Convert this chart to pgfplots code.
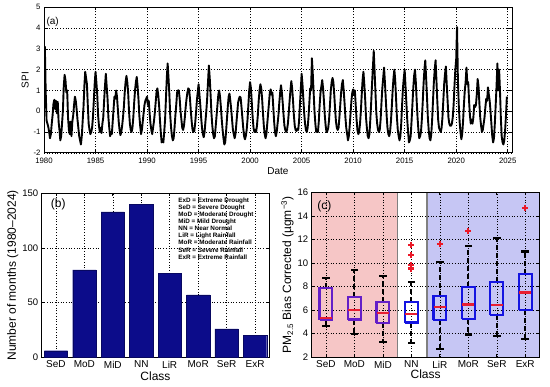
\documentclass[border=0pt]{standalone}
\usepackage{fontspec}
\setmainfont{Liberation Sans}
\usepackage{pgfplots}
\pgfplotsset{compat=1.18}
\definecolor{barblue}{RGB}{12,12,138}
\definecolor{pinkbg}{RGB}{246,198,198}
\definecolor{bluebg}{RGB}{198,198,244}
\definecolor{boxpurple}{RGB}{100,30,200}
\definecolor{boxblue}{RGB}{20,20,225}
\definecolor{medred}{RGB}{232,30,50}
\definecolor{outred}{RGB}{235,25,40}
\pgfplotsset{
  matlab/.style={
    scale only axis, tick align=inside, major tick length=3pt,
    /pgf/number format/assume math mode=true,
    grid=major, grid style={black, line width=0.55pt, dash pattern=on 0.9pt off 1.8pt},
    axis line style={line width=0.8pt},
    every tick/.style={black, line width=0.7pt},
  },
}
\begin{document}
\begin{tikzpicture}
% ---------------- (a) ----------------
\begin{axis}[matlab, at={(44pt,-7.3pt)}, anchor=north west, width=468pt, height=145.5pt,
  xmin=0, xmax=545, ymin=-2, ymax=5,
  xtick={0,60,120,180,240,300,360,420,480,540},
  xticklabels={1980,1985,1990,1995,2000,2005,2010,2015,2020,2025},
  ytick={-2,-1,0,1,2,3,4,5},
  tick label style={font=\fontsize{7.8}{9}\selectfont},
  xticklabel style={yshift=-1.5pt},
  xlabel={Date}, ylabel={SPI},
  label style={font=\fontsize{10}{12}\selectfont},
  xlabel style={yshift=3pt}, ylabel style={yshift=-2pt}]
\addplot[black, line width=1.9pt, line join=round] table[x expr=\coordindex, y index=0, header=false, row sep=\\] {
0.7\\3.1\\0.9\\-0.45\\-0.6\\-0.75\\-1.0\\-1.3\\-1.1\\-0.6\\-0.2\\0.35\\
0.55\\0.1\\0.5\\-0.1\\0.45\\-0.5\\-0.9\\-1.4\\-1.2\\-0.6\\0.0\\1.2\\
1.75\\1.5\\0.9\\1.0\\-0.3\\-0.9\\-1.1\\-0.5\\-1.2\\-0.5\\-0.2\\0.3\\
0.7\\0.5\\0.1\\-0.4\\-0.8\\-1.2\\-1.4\\-1.6\\-1.2\\-0.5\\0.2\\1.2\\
1.9\\1.6\\1.3\\0.3\\-0.6\\-0.9\\-1.1\\-1.0\\-0.8\\-0.3\\0.5\\1.3\\
1.9\\1.4\\0.8\\-0.2\\-0.7\\-1.0\\-0.8\\-1.05\\-0.6\\-0.3\\0.5\\1.2\\
1.8\\1.2\\0.6\\-0.3\\-0.8\\-1.2\\-1.0\\-1.1\\-0.5\\0.1\\0.7\\0.6\\
1.0\\0.7\\0.1\\-0.5\\-0.9\\-1.15\\-1.0\\-0.7\\-0.3\\0.2\\0.9\\1.4\\
1.7\\1.4\\0.9\\0.0\\-0.6\\-0.9\\-1.0\\-0.8\\-0.3\\0.4\\1.0\\1.4\\
1.65\\1.2\\0.6\\-0.2\\-0.7\\-1.1\\-0.9\\-0.5\\-0.1\\0.3\\0.5\\0.6\\
0.7\\0.3\\0.5\\-0.1\\-0.6\\-0.9\\-1.1\\-0.8\\-0.5\\-0.1\\0.4\\0.9\\
1.1\\0.8\\0.3\\-0.4\\-1.0\\-1.5\\-1.4\\-1.5\\-1.0\\-0.4\\0.6\\1.6\\
2.3\\1.6\\0.8\\-0.2\\-0.8\\-1.2\\-1.4\\-1.3\\-0.8\\-0.2\\0.3\\0.9\\
1.0\\1.0\\0.6\\0.0\\-0.4\\-0.8\\-0.9\\-0.7\\-0.3\\0.2\\0.6\\0.9\\
1.1\\1.05\\0.6\\0.0\\-0.5\\-0.9\\-1.0\\-0.95\\-0.6\\-0.1\\0.5\\0.9\\
1.3\\0.8\\0.3\\-0.3\\-0.8\\-1.1\\-1.25\\-1.0\\-0.5\\0.0\\0.6\\1.4\\
2.2\\1.6\\0.8\\-0.1\\-0.7\\-1.1\\-1.3\\-1.2\\-0.7\\-0.2\\0.3\\0.8\\
1.0\\0.7\\0.2\\-0.4\\-0.9\\-1.3\\-1.6\\-1.5\\-1.0\\-0.4\\0.2\\0.7\\
0.85\\0.5\\0.1\\-0.4\\-0.9\\-1.1\\-1.3\\-1.1\\-0.6\\-0.1\\0.4\\0.6\\
0.7\\0.65\\0.2\\-0.3\\-0.8\\-1.2\\-1.35\\-1.2\\-0.9\\-0.4\\0.3\\1.0\\
1.4\\1.1\\0.4\\-0.3\\-0.8\\-1.0\\-0.9\\-1.0\\-0.7\\-0.2\\0.5\\1.0\\
1.3\\1.1\\0.6\\-0.1\\-0.7\\-1.1\\-1.3\\-1.1\\-0.6\\-0.1\\0.4\\0.9\\
1.05\\0.8\\0.9\\0.2\\-0.5\\-1.0\\-1.2\\-1.0\\-0.6\\-0.2\\0.4\\0.9\\
1.25\\0.9\\0.4\\-0.2\\-0.7\\-0.9\\-1.0\\-0.9\\-0.6\\-0.1\\0.5\\1.0\\
1.45\\1.1\\0.5\\-0.2\\-0.7\\-0.9\\-0.95\\-0.85\\-0.9\\-0.5\\0.3\\1.0\\
1.8\\1.3\\0.6\\-0.1\\-0.6\\-0.9\\-1.0\\-0.8\\-0.3\\0.4\\1.1\\1.0\\
2.55\\1.8\\0.9\\0.0\\-0.6\\-1.0\\-0.9\\-1.0\\-0.5\\0.3\\0.9\\1.2\\
1.5\\1.1\\0.5\\-0.2\\-0.7\\-1.0\\-0.95\\-0.8\\-0.4\\0.3\\1.0\\1.4\\
1.6\\1.4\\0.8\\0.1\\-0.5\\-0.8\\-0.9\\-0.8\\-0.3\\0.3\\0.9\\1.3\\
1.5\\1.0\\0.4\\-0.3\\-0.8\\-1.1\\-1.4\\-1.2\\-0.7\\-0.1\\0.5\\0.9\\
1.05\\0.8\\1.0\\0.3\\-0.4\\-0.9\\-1.1\\-1.0\\-0.6\\0.0\\0.8\\1.5\\
1.9\\1.3\\0.6\\-0.3\\-0.8\\-1.2\\-1.3\\-1.1\\-0.4\\0.4\\1.3\\2.1\\
2.9\\1.9\\0.9\\-0.1\\-0.6\\-0.9\\-1.0\\-0.9\\-0.4\\0.4\\1.1\\1.6\\
2.1\\1.4\\0.6\\-0.2\\-0.8\\-1.1\\-1.2\\-1.0\\-0.5\\0.2\\1.0\\1.6\\
2.0\\1.5\\0.6\\-0.3\\-0.9\\-1.2\\-1.4\\-1.2\\-0.6\\0.3\\1.1\\1.6\\
2.0\\1.2\\0.4\\-0.4\\-1.0\\-1.5\\-1.4\\-1.2\\-0.5\\0.3\\1.1\\1.7\\
2.0\\1.4\\0.5\\-0.3\\-0.9\\-1.3\\-1.2\\-1.0\\-0.4\\0.4\\1.3\\2.0\\
2.45\\1.6\\0.7\\-0.3\\-0.9\\-1.3\\-1.4\\-1.1\\-0.4\\0.5\\1.4\\2.0\\
2.45\\1.5\\0.5\\-0.4\\-0.8\\-0.9\\-1.0\\-0.8\\-0.3\\0.5\\1.3\\1.8\\
2.15\\1.3\\0.5\\-0.3\\-0.6\\-0.7\\-0.7\\-0.6\\-0.3\\0.3\\1.2\\2.0\\
2.5\\4.05\\1.5\\0.3\\-0.5\\-1.0\\-1.35\\-1.1\\-0.5\\0.3\\1.0\\1.4\\
2.1\\1.3\\1.4\\0.5\\-0.2\\-0.6\\-0.4\\-0.6\\-0.3\\0.3\\0.2\\0.3\\
0.8\\1.55\\1.2\\0.4\\-0.3\\-0.7\\-1.0\\-0.9\\-0.6\\-0.3\\0.2\\0.6\\
0.5\\1.15\\0.8\\0.5\\0.0\\-0.6\\-1.2\\-1.5\\-1.3\\-0.6\\0.3\\1.2\\
2.3\\1.0\\2.0\\1.0\\-0.3\\-1.2\\-1.5\\-1.6\\-1.4\\-0.9\\-0.2\\0.7\\
};
\node[anchor=west, font=\fontsize{10}{12}\selectfont, inner sep=1pt] at (rel axis cs:0.003,0.9) {(a)};
\end{axis}
% ---------------- (b) ----------------
\begin{axis}[matlab, at={(41.7pt,-193.3pt)}, anchor=north west, width=227.6pt, height=164pt,
  xmin=0.5, xmax=8.5, ymin=0, ymax=150,
  xtick={1,2,3,4,5,6,7,8}, xticklabels={SeD,MoD,MiD,NN,LiR,MoR,SeR,ExR},
  ytick={0,50,100,150},
  xticklabel style={font=\fontsize{10}{12}\selectfont},
  yticklabel style={font=\fontsize{9.5}{11}\selectfont},
  xlabel={Class}, ylabel={Number of months (1980--2024)},
  label style={font=\fontsize{12}{14}\selectfont},
  xlabel style={yshift=3pt}, ylabel style={yshift=-3pt}]
\addplot[ybar, bar width=23.3pt, bar shift=0pt, fill=barblue, draw=barblue!70!black] coordinates {(1,6)(2,80)(3,133)(4,140)(5,77)(6,57)(7,26)(8,20)};
\node[anchor=west, font=\fontsize{12}{14}\selectfont, inner sep=1pt] at (rel axis cs:0.035,0.93) {(b)};
\node[anchor=north west, align=left, inner sep=0pt, font=\bfseries\fontsize{6.3}{7.05}\selectfont] at (rel axis cs:0.6,0.972) {ExD = Extreme Drought\\SeD = Severe Drought\\MoD = Moderate Drought\\MiD = Mild Drought\\NN = Near Normal\\LiR = Light Rainfall\\MoR = Moderate Rainfall\\SeR = Severe Rainfall\\ExR = Extreme Rainfall};
\end{axis}
% ---------------- (c) ----------------
\begin{axis}[matlab, set layers, at={(311.7pt,-192.3pt)}, anchor=north west, width=227.8pt, height=165pt,
  xmin=0.5, xmax=8.5, ymin=2, ymax=16,
  xtick={1,2,3,4,5,6,7,8}, xticklabels={SeD,MoD,MiD,NN,LiR,MoR,SeR,ExR},
  ytick={2,4,6,8,10,12,14,16},
  xticklabel style={font=\fontsize{10}{12}\selectfont},
  yticklabel style={font=\fontsize{9.5}{11}\selectfont},
  xlabel={Class}, ylabel={PM\textsubscript{2.5} Bias Corrected (µgm\textsuperscript{−3})},
  label style={font=\fontsize{12}{14}\selectfont},
  xlabel style={yshift=5pt}, ylabel style={yshift=-3pt},
  unbounded coords=jump]
\begin{pgfonlayer}{axis background}
\fill[pinkbg] (axis cs:0.5,2) rectangle (axis cs:3.5,16);
\fill[bluebg] (axis cs:4.55,2) rectangle (axis cs:8.5,16);
\draw[gray, line width=1.2pt] (axis cs:3.5,2) -- (axis cs:3.5,16);
\draw[gray, line width=1.2pt] (axis cs:4.55,2) -- (axis cs:4.55,16);
\end{pgfonlayer}
% whiskers (dashed)
\addplot[black, line width=2.1pt, dash pattern=on 5pt off 3pt] coordinates {
(1,7.9)(1,8.73) (1,nan) (1,5.2)(1,4.64) (1,nan)
(2,7.1)(2,9.43) (2,nan) (2,5.2)(2,3.95) (2,nan)
(3,6.67)(3,8.87) (3,nan) (3,4.94)(3,3.33) (3,nan)
(4,6.7)(4,8.36) (4,nan) (4,4.95)(4,3.2) (4,nan)
(5,7.23)(5,10.05) (5,nan) (5,5.15)(5,2.73) (5,nan)
(6,7.97)(6,11.45) (6,nan) (6,5.25)(6,3.93) (6,nan)
(7,8.37)(7,12.15) (7,nan) (7,5.6)(7,3.8) (7,nan)
(8,9.06)(8,10.98) (8,nan) (8,6.03)(8,3.55)};
% whisker caps
\addplot[only marks, mark=-, mark size=3.8pt, mark options={black, line width=2.1pt, solid}] coordinates {
(1,8.73)(1,4.64)(2,9.43)(2,3.95)(3,8.87)(3,3.33)(4,8.36)(4,3.2)
(5,10.05)(5,2.73)(6,11.45)(6,3.93)(7,12.15)(7,3.8)(8,10.98)(8,3.55)};
% boxes
\addplot[boxpurple, line width=2.2pt, line join=miter] coordinates {
(0.775,5.2)(1.225,5.2)(1.225,7.9)(0.775,7.9)(0.775,5.2) (1,nan)
(1.775,5.2)(2.225,5.2)(2.225,7.1)(1.775,7.1)(1.775,5.2) (2,nan)
(2.775,4.94)(3.225,4.94)(3.225,6.67)(2.775,6.67)(2.775,4.94)};
\addplot[boxblue, line width=2.2pt, line join=miter] coordinates {
(3.775,4.95)(4.225,4.95)(4.225,6.7)(3.775,6.7)(3.775,4.95) (4,nan)
(4.775,5.15)(5.225,5.15)(5.225,7.23)(4.775,7.23)(4.775,5.15) (5,nan)
(5.775,5.25)(6.225,5.25)(6.225,7.97)(5.775,7.97)(5.775,5.25) (6,nan)
(6.775,5.6)(7.225,5.6)(7.225,8.37)(6.775,8.37)(6.775,5.6) (7,nan)
(7.775,6.03)(8.225,6.03)(8.225,9.06)(7.775,9.06)(7.775,6.03)};
% medians
\addplot[medred, line width=2.1pt] coordinates {
(0.79,5.35)(1.21,5.35) (1,nan) (1.79,6.03)(2.21,6.03) (2,nan) (2.79,5.75)(3.21,5.75) (3,nan)
(3.79,5.7)(4.21,5.7) (4,nan) (4.79,6.25)(5.21,6.25) (5,nan) (5.79,6.48)(6.21,6.48) (6,nan)
(6.79,6.42)(7.21,6.42) (7,nan) (7.79,7.5)(8.21,7.5)};
% outliers
\addplot[only marks, mark=+, mark size=3pt, mark options={outred, line width=1.9pt, solid}] coordinates {
(4,11.55)(4,10.65)(4,9.8)(4,9.6)(4,9.45)(5,11.6)(6,12.75)(8,14.7)};
\node[anchor=west, font=\fontsize{12}{14}\selectfont, inner sep=1pt] at (rel axis cs:0.02,0.917) {(c)};
\end{axis}
\pgfresetboundingbox
\path[use as bounding box] (0,0) rectangle (550pt,-387pt);
\end{tikzpicture}
\end{document}
